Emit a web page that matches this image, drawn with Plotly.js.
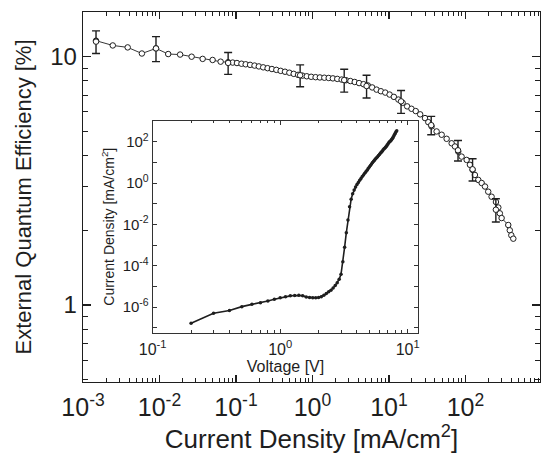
<!DOCTYPE html>
<html>
<head>
<meta charset="utf-8">
<script src="https://cdn.plot.ly/plotly-3.0.1.min.js"></script>
<style>html,body{margin:0;padding:0;background:#fff;}#chart{width:541px;height:455px;}</style>
</head>
<body>
<div id="chart"></div>
<script>
// Main plot: EQE vs current density
const currentDensity = [0.00148, 0.00245, 0.00384, 0.00589, 0.0090, 0.0130, 0.0186, 0.0263, 0.0367, 0.0495, 0.0630,
  0.0790, 0.0906, 0.103, 0.118, 0.134, 0.153, 0.175, 0.199, 0.227, 0.259, 0.295, 0.337, 0.384, 0.438, 0.499, 0.569,
  0.649, 0.740, 0.843, 0.962, 1.10, 1.25, 1.43, 1.63, 1.85, 2.11, 2.41, 2.75, 3.13, 3.57, 4.07, 4.65, 5.30, 6.04,
  6.89, 7.85, 8.95, 10.2, 11.6, 13.3, 15.1, 17.3, 19.7, 22.4, 25.6, 29.6, 32.7, 36.1, 42.0, 48.9, 56.8, 66.1, 73.0,
  80.5, 89.1, 103.8, 114.6, 124.1, 133.0, 147.2, 163.0, 180.3, 198.6, 219.8, 250.6, 269.2, 281.8, 297.2, 363.1,
  380.2, 398.1, 422.7];
const eqe = [11.6, 11.1, 10.9, 10.3, 10.8, 10.25, 10.2, 10.0, 9.8, 9.7, 9.55,
  9.5, 9.47, 9.43, 9.37, 9.32, 9.27, 9.21, 9.14, 9.06, 8.99, 8.92, 8.85, 8.77, 8.70, 8.62, 8.53,
  8.45, 8.39, 8.34, 8.30, 8.27, 8.25, 8.23, 8.21, 8.18, 8.14, 8.09, 8.04, 7.98, 7.91, 7.83, 7.75, 7.66, 7.52,
  7.37, 7.26, 7.17, 7.04, 6.89, 6.72, 6.52, 6.31, 6.17, 6.04, 5.86, 5.66, 5.45, 5.24, 5.00, 4.85, 4.67, 4.48, 4.35,
  4.15, 3.96, 3.84, 3.67, 3.50, 3.34, 3.19, 3.10, 3.00, 2.86, 2.73, 2.60, 2.47, 2.34, 2.24, 2.10,
  2.00, 1.91, 1.85];

// Error-bar measurements
const errJ = [0.00148, 0.0090, 0.079, 0.69, 2.6, 5.1, 14.4, 35.7, 80, 124, 250];
const errEQE = [11.5, 10.8, 9.44, 8.42, 8.05, 7.62, 6.61, 5.30, 4.20, 3.52, 2.42];
const errSize = [1.2, 1.25, 0.95, 0.85, 0.85, 0.8, 0.7, 0.45, 0.4, 0.36, 0.26];

// Inset: current density vs voltage
const voltage = [0.2, 0.3, 0.4, 0.5, 0.6, 0.7, 0.8, 0.9, 1.0, 1.1, 1.2, 1.3, 1.4, 1.5, 1.6, 1.7, 1.8, 1.9, 2.0,
  2.1, 2.2, 2.3, 2.4, 2.5, 2.6, 2.7, 2.8, 2.9, 3.0, 3.1, 3.2, 3.3, 3.4, 3.5, 3.6, 3.7, 3.8, 3.9, 4.0,
  4.1, 4.2, 4.3, 4.4, 4.5, 4.6, 4.7, 4.8, 4.9, 5.0, 5.1, 5.2, 5.3, 5.4, 5.5, 5.6, 5.7, 5.8, 5.9, 6.0,
  6.1, 6.2, 6.3, 6.4, 6.5, 6.6, 6.7, 6.8, 6.9, 7.0, 7.1, 7.2, 7.3, 7.4, 7.5, 7.6, 7.7, 7.8, 7.9, 8.0, 8.1, 8.2];
const ivDensity = [1.70e-7, 5.13e-7, 6.92e-7, 1.07e-6, 1.38e-6, 1.66e-6, 2.00e-6, 2.45e-6, 2.88e-6, 3.24e-6,
  3.55e-6, 3.72e-6, 3.80e-6, 3.63e-6, 3.09e-6, 2.95e-6, 2.88e-6, 2.88e-6, 2.95e-6,
  3.24e-6, 3.80e-6, 4.57e-6, 5.62e-6, 6.61e-6, 8.51e-6, 1.12e-5, 1.51e-5, 2.24e-5, 3.98e-5,
  1.58e-4, 7.94e-4, 3.98e-3, 0.0166, 0.0708, 0.166, 0.302, 0.457, 0.646, 0.851,
  1.07, 1.35, 1.66, 2.04, 2.45, 2.95, 3.55, 4.17, 5.01, 5.89, 7.08, 8.32, 9.77, 11.2, 12.9, 14.8, 16.6, 18.6, 21.4, 24.0,
  27.5, 30.9, 34.7, 38.9, 43.7, 47.9, 53.7, 60.3, 69.2, 77.6, 87.1, 97.7, 105, 115, 129, 145, 166, 191, 224, 263, 302, 339];

// Tick labels
const mainXTicks = [1e-3, 1e-2, 1e-1, 1, 10, 100];
const mainXLabels = ['10<sup>-3</sup>', '10<sup>-2</sup>', '10<sup>-1</sup>', '10<sup>0</sup>', '10<sup>1</sup>', '10<sup>2</sup>'];
const mainYTicks = [1, 10];
const mainYLabels = ['1', '10'];
const insetXTicks = [0.1, 1, 10];
const insetXLabels = ['10<sup>-1</sup>', '10<sup>0</sup>', '10<sup>1</sup>'];
const insetYTicks = [1e-6, 1e-4, 1e-2, 1, 100];
const insetYLabels = ['10<sup>-6</sup>', '10<sup>-4</sup>', '10<sup>-2</sup>', '10<sup>0</sup>', '10<sup>2</sup>'];
const insetYOddDecades = [1e-7, 1e-5, 1e-3, 1e-1, 10, 1000];

function minorTicks(lo, hi) {
  const out = [];
  for (let e = lo; e <= hi; e++) for (let d = 2; d <= 9; d++) out.push(d * Math.pow(10, e));
  return out;
}

const INK = '#1e1e1e';
const FONT = 'Liberation Sans, Arial, sans-serif';

const traces = [
  {
    x: currentDensity, y: eqe, xaxis: 'x', yaxis: 'y', type: 'scatter', mode: 'lines+markers',
    line: {color: INK, width: 0.9},
    marker: {symbol: 'circle', size: 5.5, color: '#fff', line: {color: INK, width: 1}},
    hoverinfo: 'skip'
  },
  {
    x: errJ, y: errEQE, xaxis: 'x', yaxis: 'y', type: 'scatter', mode: 'markers',
    marker: {symbol: 'circle', size: 5.5, color: '#fff', line: {color: INK, width: 1}},
    error_y: {type: 'data', array: errSize, visible: true, color: INK, thickness: 1.4, width: 4},
    hoverinfo: 'skip'
  },
  {
    x: voltage, y: ivDensity, xaxis: 'x2', yaxis: 'y2', type: 'scatter', mode: 'lines+markers',
    line: {color: INK, width: 1.6},
    marker: {symbol: 'circle', size: 3.5, color: INK},
    hoverinfo: 'skip'
  }
];

const axisBase = {
  type: 'log', showgrid: false, zeroline: false, showline: true, linecolor: INK,
  mirror: 'allticks', ticks: 'inside', tickcolor: INK, tickmode: 'array'
};

const layout = {
  width: 541, height: 455,
  margin: {l: 83, r: 1, t: 12, b: 73, pad: 0},
  paper_bgcolor: '#fff', plot_bgcolor: '#fff',
  showlegend: false,
  font: {family: FONT, color: INK},
  xaxis: Object.assign({}, axisBase, {
    range: [-3.0, 2.975], tickvals: mainXTicks, ticktext: mainXLabels,
    ticklen: 7, tickwidth: 1.2, linewidth: 1.3, ticklabelstandoff: 3,
    tickfont: {size: 25, family: FONT, color: INK},
    minor: {tickvals: minorTicks(-3, 2), ticks: 'inside', ticklen: 4, tickwidth: 1, tickcolor: INK},
    title: {text: 'Current Density [mA/cm<sup>2</sup>]', font: {size: 26, family: FONT, color: INK}, standoff: 4}
  }),
  yaxis: Object.assign({}, axisBase, {
    range: [-0.31, 1.18], tickvals: mainYTicks, ticktext: mainYLabels,
    ticklen: 8, tickwidth: 1.2, linewidth: 1.3,
    tickfont: {size: 24, family: FONT, color: INK},
    minor: {tickvals: minorTicks(-1, 1), ticks: 'inside', ticklen: 5, tickwidth: 1, tickcolor: INK},
    title: {text: 'External Quantum Efficiency [%]', font: {size: 22, family: FONT, color: INK}, standoff: 12}
  }),
  xaxis2: Object.assign({}, axisBase, {
    anchor: 'y2', domain: [0.1525, 0.7337],
    range: [-1.0, 1.083], tickvals: insetXTicks, ticktext: insetXLabels,
    ticklen: 4, tickwidth: 1, linewidth: 1, linecolor: '#333', tickcolor: '#333', ticklabelstandoff: 2,
    tickfont: {size: 16, family: FONT, color: INK},
    minor: {tickvals: minorTicks(-1, 0), ticks: 'inside', ticklen: 2.5, tickwidth: 1, tickcolor: '#333'},
    title: {text: 'Voltage [V]', font: {size: 16, family: FONT, color: INK}, standoff: 0}
  }),
  yaxis2: Object.assign({}, axisBase, {
    anchor: 'x2', domain: [0.1332, 0.7062],
    range: [-7.23, 3.01], tickvals: insetYTicks, ticktext: insetYLabels,
    ticklen: 4, tickwidth: 1, linewidth: 1, linecolor: '#333', tickcolor: '#333',
    tickfont: {size: 15, family: FONT, color: INK},
    minor: {tickvals: insetYOddDecades, ticks: 'inside', ticklen: 4, tickwidth: 1, tickcolor: '#333'},
    title: {text: 'Current Density [mA/cm<sup>2</sup>]', font: {size: 14, family: FONT, color: INK}, standoff: 4}
  })
};

Plotly.newPlot('chart', traces, layout, {displayModeBar: false, staticPlot: true});
</script>
</body>
</html>
